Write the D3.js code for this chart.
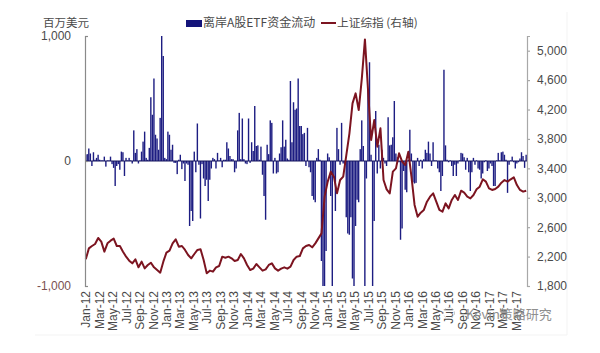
<!DOCTYPE html>
<html>
<head>
<meta charset="utf-8">
<script src="https://cdn.jsdelivr.net/npm/d3@7"></script>
<style>
  html, body { margin: 0; padding: 0; background: #fff; }
  text { font-family: "Liberation Sans", Arial, sans-serif; fill: #4a4a4a; }
  .cn { font-family: "Noto Sans CJK SC", sans-serif; }
</style>
</head>
<body>
<div id="chart"></div>
<script>
// month labels on the x axis, every second month
const monthLabels = ["Jan-12","Mar-12","May-12","Jul-12","Sep-12","Nov-12","Jan-13","Mar-13","May-13","Jul-13","Sep-13","Nov-13","Jan-14","Mar-14","May-14","Jul-14","Sep-14","Nov-14","Jan-15","Mar-15","May-15","Jul-15","Sep-15","Nov-15","Jan-16","Mar-16","May-16","Jul-16","Sep-16","Nov-16","Jan-17","Mar-17","May-17"];

// weekly ETF flows, USD mn (clipped at the axis like the original)
const flows = [
  50,55,100,60,-40,70,10,25,50,10,5,5,35,-45,5,5,35,-25,-55,-200,-40,-25,-70,75,70,-120,25,5,25,5,-20,245,65,95,-20,5,75,155,235,25,10,105,510,370,660,210,180,90,345,1000,840,25,15,235,210,90,130,-15,-15,-105,10,50,-65,-20,-160,-20,-30,-520,-400,-480,75,-90,300,
  -30,-460,-25,-140,-200,-150,-320,-150,-60,25,15,-60,65,5,25,-50,10,10,150,100,40,15,15,-90,-60,245,385,15,340,15,-20,-25,340,-15,150,80,440,120,125,10,115,-110,-280,-470,130,55,325,305,-100,25,-100,-90,60,110,325,115,170,20,10,640,150,470,410,420,660,280,280,215,225,
  -40,265,-50,-90,-280,-310,-330,25,95,10,-800,-1000,-1000,-720,60,30,-280,-1000,-130,-400,265,95,-30,305,-20,-30,-450,-580,-590,-450,-940,-1000,-520,-310,-330,95,325,120,-1000,-140,570,790,50,-1000,-480,400,-100,130,-60,90,25,-20,-40,350,125,130,190,480,60,30,-10,-630,-540,-80,-230,-250,10,250,60,-170,-180,
  -175,25,-40,10,-60,15,90,65,155,60,-40,150,5,5,-60,-90,-240,-120,730,125,10,-10,5,-40,-120,-30,-120,-20,5,65,60,30,-70,25,-90,-240,-90,25,-30,5,-60,-70,-140,-100,-10,5,-80,-60,-20,-40,-200,-200,5,65,5,70,75,50,10,-255,-30,5,35,-10,-60,-20,-10,20,70,40,-55,50
];

// Shanghai Composite, one reading every second week
const indexValues = [
  2163,2312,2344,2371,2453,2403,2267,2380,2416,2444,2344,2344,2267,2199,2145,2108,2163,2054,2131,2040,2086,2117,2054,2018,1981,2131,2253,2280,2380,2435,2335,2344,2290,2222,2176,2235,
  2290,2299,2154,1972,2009,1995,2054,2072,2199,2185,2199,2176,2140,2154,2235,2176,2086,2018,2036,2099,2054,2009,2027,2086,2108,2040,2009,2036,2054,2036,2063,2154,2199,2208,2312,2344,
  2358,2326,2380,2448,2516,3015,3219,3355,3287,3060,3241,3287,3581,3876,4284,4420,4193,4624,5154,4465,3785,4057,3695,3944,3241,3115,3060,3355,3400,3604,3491,3446,3627,3287,2902,2743,
  2797,2834,2947,3015,3060,2947,2834,2811,2924,2856,2970,3038,2970,3096,3069,3015,2992,3038,3115,3151,3251,3219,3128,3106,3119,3151,3205,3241,3219,3251,3278,3173,3106,3083,3096
];

const leftTicks = [-1000, 0, 1000];
const rightTicks = [1800, 2200, 2600, 3000, 3400, 3800, 4200, 4600, 5000];

const width = 600, height = 353;
const plot = { left: 85, right: 527, top: 36, bottom: 286 };

const svg = d3.select("#chart").append("svg")
  .attr("width", width)
  .attr("height", height)
  .style("display", "block");

const x = d3.scaleBand().domain(d3.range(flows.length)).range([plot.left, plot.right]);
const xMonth = d3.scalePoint().domain(monthLabels).range([85.6, 516]);
const yFlow = d3.scaleLinear().domain([-1000, 1000]).range([plot.bottom, plot.top]);
const yIndex = d3.scaleLinear().domain([1800, 5200]).range([plot.bottom, plot.top]);

// d3.format gives a real minus sign, the original has a plain hyphen
const fmt = d => d3.format(",")(d).replace("\u2212", "-");

// faint frame left over from the screenshot
svg.append("path")
  .attr("d", `M35,335H567V12`)
  .attr("fill", "none")
  .attr("stroke", "#f3f3f3");

// bars
svg.append("g").selectAll("rect")
  .data(flows)
  .join("rect")
    .attr("x", (d, i) => x(i))
    .attr("width", 1.4)
    .attr("y", d => yFlow(Math.max(d, 0)))
    .attr("height", d => Math.abs(yFlow(d) - yFlow(0)))
    .attr("fill", "#1d1d82");

// zero line
svg.append("line")
  .attr("x1", plot.left).attr("x2", plot.right)
  .attr("y1", yFlow(0)).attr("y2", yFlow(0))
  .attr("stroke", "#14145f")
  .attr("stroke-width", 1.2);

// index line
const line = d3.line()
  .x((d, i) => x(i * 2) + x.bandwidth() / 2)
  .y(d => yIndex(d));

svg.append("path")
  .datum(indexValues)
  .attr("d", line)
  .attr("fill", "none")
  .attr("stroke", "#7c1420")
  .attr("stroke-width", 2)
  .attr("stroke-linejoin", "round");

// left axis
const leftAxis = svg.append("g")
  .attr("transform", `translate(${plot.left},0)`)
  .call(d3.axisLeft(yFlow).tickValues(leftTicks).tickSize(-3).tickPadding(14).tickFormat(fmt));
leftAxis.selectAll("path, line").attr("stroke", "#8a8a8a").attr("stroke-width", 1.2);
leftAxis.selectAll("text")
  .attr("font-size", 12)
  .style("font-family", '"Liberation Sans", Arial, sans-serif')
  .style("fill", d => d < 0 ? "#7a5050" : "#4a4a4a");

// right axis
const rightAxis = svg.append("g")
  .attr("transform", `translate(${plot.right},0)`)
  .call(d3.axisRight(yIndex).tickValues(rightTicks).tickSize(3).tickPadding(7).tickFormat(d3.format(",")));
rightAxis.selectAll("path, line").attr("stroke", "#a8a8a8").attr("stroke-width", 1.2);
rightAxis.selectAll("text")
  .attr("font-size", 12)
  .style("font-family", '"Liberation Sans", Arial, sans-serif');

// month labels
const bottomAxis = svg.append("g")
  .attr("transform", `translate(0,${plot.bottom})`)
  .call(d3.axisBottom(xMonth).tickSize(0));
bottomAxis.select("path").remove();
bottomAxis.selectAll("text")
  .attr("font-size", 12)
  .style("font-family", '"Liberation Sans", Arial, sans-serif')
  .attr("text-anchor", "end")
  .attr("dy", "0.35em")
  .attr("transform", "translate(0,5) rotate(-90)")
  .attr("x", 0)
  .attr("y", 0);

// unit and legend
svg.append("text").attr("class", "cn")
  .attr("x", 43).attr("y", 27)
  .attr("font-size", 11.5).text("百万美元");

svg.append("rect")
  .attr("x", 186).attr("y", 20)
  .attr("width", 16).attr("height", 7)
  .attr("fill", "#14147a");
svg.append("text").attr("class", "cn")
  .attr("x", 203).attr("y", 27)
  .attr("font-size", 12).text("离岸A股ETF资金流动");

svg.append("line")
  .attr("x1", 321).attr("x2", 336)
  .attr("y1", 23).attr("y2", 23)
  .attr("stroke", "#7c1420").attr("stroke-width", 2);
svg.append("text").attr("class", "cn")
  .attr("x", 337).attr("y", 27)
  .attr("font-size", 11.7).text("上证综指 (右轴)");

// watermark
svg.append("circle")
  .attr("cx", 449).attr("cy", 313).attr("r", 5.5)
  .attr("fill", "none").attr("stroke", "#c4c4c4").attr("stroke-dasharray", "2 2");
svg.append("text").attr("class", "cn")
  .attr("x", 466).attr("y", 319)
  .attr("font-size", 13)
  .style("fill", "#8f8f8f")
  .text("Kevin策略研究");
</script>
</body>
</html>
